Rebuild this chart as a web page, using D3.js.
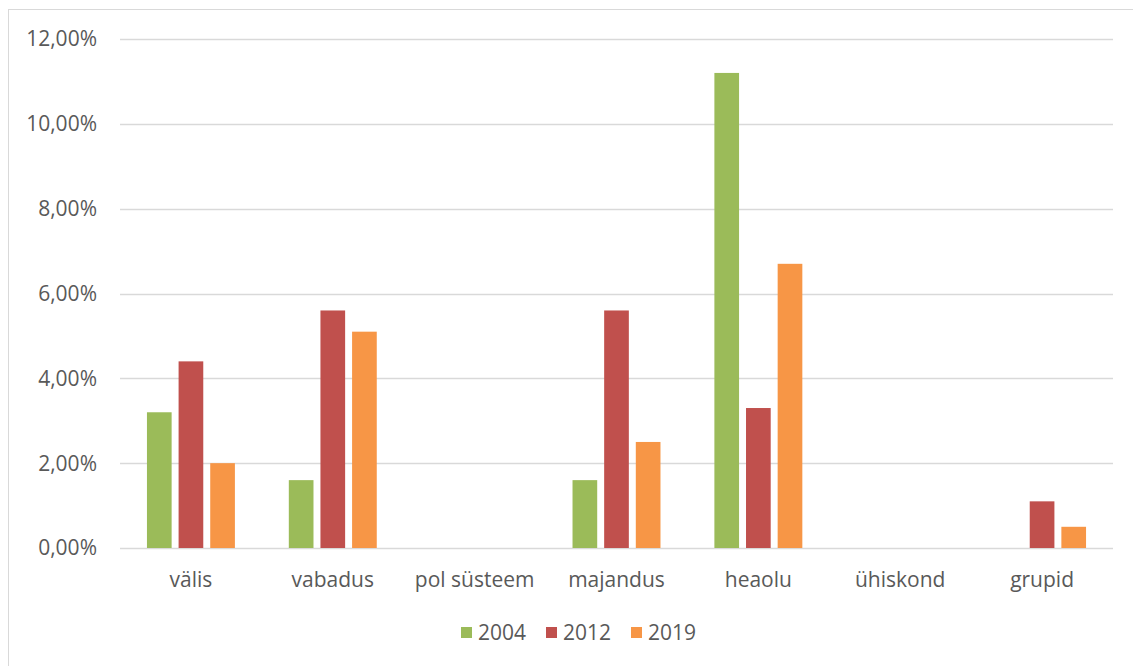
<!DOCTYPE html>
<html>
<head>
<meta charset="utf-8">
<script src="https://cdn.jsdelivr.net/npm/d3@7"></script>
<style>
  body { margin: 0; background: #fff; }
  text { font-family: "Open Sans", "Noto Sans", sans-serif; fill: #595959; }
</style>
</head>
<body>
<div id="vis"></div>
<script>
const categories = ['välis', 'vabadus', 'pol süsteem', 'majandus', 'heaolu', 'ühiskond', 'grupid'];
const years = ['2004', '2012', '2019'];
const v2004 = [3.2, 1.6, 0, 1.6, 11.2, 0, 0];
const v2012 = [4.4, 5.6, 0, 5.6, 3.3, 0, 1.1];
const v2019 = [2.0, 5.1, 0, 2.5, 6.7, 0, 0.5];
const yTicks = [0, 2, 4, 6, 8, 10, 12];
const colors = ['#9BBB59', '#C0504D', '#F79646'];

const series = [v2004, v2012, v2019];

const W = 1133, H = 666;
const margin = { top: 39, right: 20, bottom: 118, left: 120 };
const width = 1113 - margin.left;
const height = 548 - margin.top;
const fs = '21px';

const root = d3.select('#vis').append('svg')
    .attr('width', W)
    .attr('height', H);

// chart frame
root.append('rect')
    .attr('x', 8.5).attr('y', 9.5)
    .attr('width', W).attr('height', H)
    .attr('fill', 'none')
    .attr('stroke', '#D9D9D9');

const svg = root.append('g')
    .attr('transform', `translate(${margin.left},${margin.top})`);

const x0 = d3.scaleBand().domain(categories).range([0, width])
    .paddingInner(0.38).paddingOuter(0.19);
const x1 = d3.scaleBand().domain(years).range([0, x0.bandwidth()])
    .paddingInner(0.22);
const y = d3.scaleLinear().domain([0, 12]).range([height, 0]);

// gridlines
svg.selectAll('.grid')
    .data(yTicks)
    .join('line')
    .attr('class', 'grid')
    .attr('x1', 0).attr('x2', width)
    .attr('y1', d => Math.round(y(d)) + 0.5)
    .attr('y2', d => Math.round(y(d)) + 0.5)
    .attr('stroke', '#D9D9D9')
    .attr('stroke-width', 1.3);

// y labels
svg.selectAll('.ylab')
    .data(yTicks)
    .join('text')
    .attr('class', 'ylab')
    .attr('x', -23)
    .attr('y', d => y(d))
    .attr('dy', '0.35em')
    .attr('text-anchor', 'end')
    .style('font-size', fs)
    .text(d => d3.format('.2f')(d).replace('.', ',') + '%');

// bars
const groups = svg.selectAll('.grp')
    .data(categories)
    .join('g')
    .attr('class', 'grp')
    .attr('transform', d => `translate(${x0(d)},0)`);

groups.selectAll('rect')
    .data((c, i) => years.map((yr, j) => ({ yr, j, v: series[j][i] })))
    .join('rect')
    .filter(d => d.v > 0)
    .attr('x', d => x1(d.yr))
    .attr('width', x1.bandwidth())
    .attr('y', d => y(d.v))
    .attr('height', d => y(0) - y(d.v))
    .attr('fill', d => colors[d.j]);

// category labels
svg.selectAll('.xlab')
    .data(categories)
    .join('text')
    .attr('class', 'xlab')
    .attr('x', d => x0(d) + x0.bandwidth() / 2)
    .attr('y', height + 39)
    .attr('text-anchor', 'middle')
    .style('font-size', fs)
    .text(d => d);

// legend
const legendX = [461, 546, 631];
const legend = root.selectAll('.leg')
    .data(years)
    .join('g')
    .attr('class', 'leg')
    .attr('transform', (d, i) => `translate(${legendX[i]},627)`);
legend.append('rect')
    .attr('width', 11).attr('height', 11)
    .attr('fill', (d, i) => colors[i]);
legend.append('text')
    .attr('x', 17).attr('y', 13)
    .style('font-size', fs)
    .text(d => d);
</script>
</body>
</html>
